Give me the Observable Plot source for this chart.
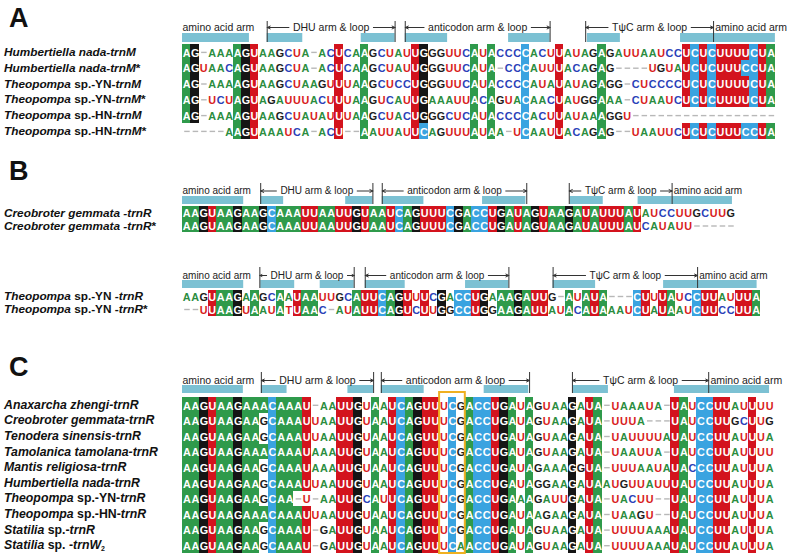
<!DOCTYPE html>
<html><head><meta charset="utf-8">
<script src="https://cdn.jsdelivr.net/npm/d3@7"></script>
<script src="https://cdn.jsdelivr.net/npm/@observablehq/plot@0.6"></script>
<style>
body{margin:0;background:#fff;font-family:"Liberation Sans",Arial,sans-serif;}
#fig{position:relative;width:787px;height:554px;overflow:hidden;background:#fff;}
.panel{position:absolute;left:0;width:787px;}
.panel svg{position:absolute;left:0;top:0;}
.lab{position:absolute;left:4px;font-weight:bold;font-size:12px;white-space:nowrap;line-height:14px;color:#111;}
.lab sub{font-size:7px;vertical-align:-2px;}
.letter{position:absolute;left:9px;font-weight:bold;font-size:27px;line-height:27px;color:#111;}
</style></head><body><div id="fig"></div>
<script>
// ---------------- DATA ----------------
// Uppercase = shaded (highlighted) residue, lowercase = plain residue, "-" = gap
const seqA = [
"AG-aaaAGUaagcua-acUcaAgcuauUGgguucAuAcccCacuUauagAgauuaauccUCUCUUUUCUA",
"AGuaacAGUaagcua-acUcaAgcuauUGgguucAuA-ccCauuUacagAg----uguaUCUCUUUCCUA",
"AG-aaaAGUaagcuaaguUuaAgcuccUGgguucAuAcccCauaUauagAgg-cuccccUCUCUUUUCUA",
"AG-ucuAGUagauuuacuUuaAgucauUGaaauuAcAguaCaacUauggAaa-cuaaucUCUCUUUUCUA",
"AG-aaaAGUaagcuauauUuaAgcuacUGggcucAuAcccCacuUauaaAggu-----------------",
"-----aAGUaaauca-acU--AauuauUCaguuuAuAa-uCaauUacagAg--uaauucUCUCUUUCCUA"
];
const labelsA = [
"_Humbertiella nada-trnM_",
"_Humbertiella nada-trnM_*",
"_Theopompa_ sp.-YN-_trnM_",
"_Theopompa_ sp.-YN-_trnM_*",
"_Theopompa_ sp.-HN-_trnM_",
"_Theopompa_ sp.-HN-_trnM_*"
];
const annoA = [
  {label:"amino acid arm", from:0},
  {label:"DHU arm & loop", from:10, to:25.1},
  {label:"anticodon arm & loop", from:26.3, to:43.4},
  {label:"T\u03C8C arm & loop", from:47.6, to:62.7},
  {label:"amino acid arm", from:62.9}
];
const barsA = [[0,7.9],[10,14.2],[21.1,25.1],[26.3,31.3],[38.5,43.4],[47.8,51.7],[58.8,62.7],[62.7,70]];

const seqB1 = [
"AAGUAAGAAGCAAAUUAAUUGUAAUCAGUUUCGACCUGAUAGUAAGAUAUUUAUauccuugcuug",
"AAGUAAGAAGCAAAUUAAUUGUAAUCAGUUUCGACCUGAUAGUAAGAUAUUUAUcauauu-----"
];
const labelsB1 = ["_Creobroter gemmata -trnR_", "_Creobroter gemmata -trnR_*"];
const annoB1 = [
  {label:"amino acid arm", from:0},
  {label:"DHU arm & loop", from:9.2, to:22.4},
  {label:"anticodon arm & loop", from:23.5, to:40.5},
  {label:"T\u03C8C arm & loop", from:45.5, to:57.6},
  {label:"amino acid arm", from:57.8}
];
const barsB1 = [[0,7.2],[9.2,11.9],[19.2,22.4],[23.5,28.4],[35.3,40.4],[45.6,49.5],[53.6,57.6],[57.6,64.7]];

const seqB2 = [
"aagUAAGaAgcAaUAAuugcAUUCAGUuUcGaCCUGaAAGAUUg-AuAUA---CUuUAucCUUauUUA",
"--uUAAGuAauAtUAAc-auAUUCAGUcUuGgCCUGgAAGAUUauAcAUAaauCUaUAauCUUccUUA"
];
const labelsB2 = ["_Theopompa_ sp.-YN -_trnR_", "_Theopompa_ sp.-YN -_trnR_*"];
const annoB2 = [
  {label:"amino acid arm", from:0},
  {label:"DHU arm & loop", from:9.1, to:20.2},
  {label:"anticodon arm & loop", from:21.5, to:38.4},
  {label:"T\u03C8C arm & loop", from:43.6, to:60.6},
  {label:"amino acid arm", from:60.8}
];
const barsB2 = [[0,7.2],[9.2,13.2],[16.2,20.2],[21.5,26.2],[33.3,38.4],[43.6,48.6],[56.6,60.6],[60.6,67.6]];

const seqC = [
"AAGUAAGAAACAAAU-aaUUGuAaUCAGUUuCgACCUGAuAguaaGaUA-uaaaua-UAuCCUUauUuu",
"AAGUAAGAAgCAAAUuaaUUGuAaUCAGUUuCgACCUGAuAguaaGaUA-uuua---UAuCCUUgcUug",
"AAGUAAGAAgCAAAUuaaUUGuAaUCAGUUuCgACCUGAuAguaaGaUA-uauuuuaUAuCCUUauUua",
"AAGUAAGAAACAAAUaaaUUGuAaUCAGUUuCgACCUGAuAguaaGaUA-uaauua-UAuCCUUauUuu",
"AAGUAAGAAgCAAAUaaaUUGuAaUCAGUUuCgACCUGAuAgaaaGgUA-uuuaauaUAcCCUUauUua",
"AAGUAAGAAgCAAAUuaaUUGuAaUCAGUUuCgACCUGAuAggaaGaUAauguuauuUAuCCUUauUua",
"AAGUAAGAAgCAA-u-aaUUGcAuUCAGUUuCgACCUGAaAgauuGaUA-uacuu--UAuCCUUauUua",
"AAGUAAGAAACAAAUuaaUUGuAaUCAGUUuCgACCUGAuAagaaGaUA-uaagu--UAuCCUUauUua",
"AAGUAAGAAgCAAAU-gaUUGuAaUCAGUUuCgACCUGAuAguaaGaUA-uuuuaaaUAuCCUUauUua",
"AAGUAAGAAgCAAAU-gaUUGuAaUCAGUUuCaACCUGAuAguaaGaUA-uuuuaaaUAuCCUUauUua"
];
const labelsC = [
"_Anaxarcha zhengi-trnR_",
"_Creobroter gemmata-trnR_",
"_Tenodera sinensis-trnR_",
"_Tamolanica tamolana-trnR_",
"_Mantis religiosa-trnR_",
"_Humbertiella nada-trnR_",
"_Theopompa_ sp.-YN-_trnR_",
"_Theopompa_ sp.-HN-_trnR_",
"_Statilia_ sp.-_trnR_",
"_Statilia_ sp. -_trnW_~2~"
];
const annoC = [
  {label:"amino acid arm", from:0},
  {label:"DHU arm & loop", from:9.2, to:22.3},
  {label:"anticodon arm & loop", from:23.2, to:40.5},
  {label:"T\u03C8C arm & loop", from:45.5, to:61.4},
  {label:"amino acid arm", from:61.6}
];
const barsC = [[0,7.1],[9.2,12.2],[19.3,22.3],[23.2,28.2],[35.2,40.4],[45.6,49.7],[57.4,61.4],[61.4,68.5]];
const boxC = {from:30, to:33};

// ---------------- STYLE ----------------
const BG = {A:"#2f9a4b", U:"#d3131d", T:"#d3131d", C:"#3aa3e0", G:"#151515"};
const FG = {A:"#2b8d3f", U:"#d81b1b", T:"#d81b1b", C:"#2a3fb8", G:"#1c1c1c"};
const SEQFONT = '"Liberation Sans",Arial,sans-serif';
const ANNOFONT = '"Liberation Sans",Arial,sans-serif';
const ctx = document.createElement("canvas").getContext("2d");
function measure(t, size){ ctx.font = size + "px " + ANNOFONT; return ctx.measureText(t).width; }
function labelHTML(s){ return s.replace(/_([^_]+)_/g,"<i>$1</i>").replace(/~([^~]+)~/g,"<sub>$1</sub>"); }

const fig = document.getElementById("fig");

function drawPanel(p){
  const rows = p.seqs.length, w = p.w, h = p.h;
  const yU = px => (px - p.rowTop) / h;
  const cells = [];
  p.seqs.forEach((s, r) => Array.from(s).forEach((ch, c) => cells.push({r, c, ch})));
  const res = cells.filter(d => d.ch !== "-");
  const hi = res.filter(d => d.ch !== d.ch.toLowerCase());
  const gaps = cells.filter(d => d.ch === "-");
  const spans = p.annos.filter(a => a.to != null);
  const plain = p.annos.filter(a => a.to == null);
  const ty = yU(p.textY);
  const arrows = spans.flatMap(a => {
    const mid = (a.from + a.to) / 2;
    const half = (measure(a.label, p.annoSize) / 2 + 4) / w;
    return [{x1: mid - half, x2: a.from, y: ty}, {x1: mid + half, x2: a.to, y: ty}];
  });
  const vlines = spans.flatMap(a => [a.from, a.to]);
  const marks = [
    Plot.rect(p.bars, {x1: d => d[0], x2: d => d[1], y1: yU(p.barY[0]), y2: yU(p.barY[1]), fill: "#7cc1d3"}),
    Plot.ruleX(vlines, {x: d => d, y1: yU(p.vY[0]), y2: yU(p.vY[1]), stroke: "#333", strokeWidth: 1}),
    Plot.text(plain, {x: d => d.from, y: ty, text: d => d.label, textAnchor: "start", fontSize: p.annoSize, fontFamily: ANNOFONT, fill: "#222"}),
    Plot.text(spans, {x: d => (d.from + d.to) / 2, y: ty, text: d => d.label, textAnchor: "middle", fontSize: p.annoSize, fontFamily: ANNOFONT, fill: "#222"}),
    Plot.arrow(arrows, {x1: "x1", x2: "x2", y1: "y", y2: "y", stroke: "#333", strokeWidth: 1, headLength: 5, headAngle: 50}),
    Plot.rect(hi, {x1: d => d.c, x2: d => d.c + 1, y1: d => d.r, y2: d => d.r + 1, fill: d => BG[d.ch.toUpperCase()], shapeRendering: "crispEdges"}),
    Plot.link(gaps, {x1: d => d.c + 0.2, x2: d => d.c + 0.85, y1: d => d.r + 0.5, y2: d => d.r + 0.5, stroke: "#b8b8b8", strokeWidth: 1.4}),
    Plot.text(res, {x: d => d.c + 0.5, y: d => d.r + 0.55, text: d => d.ch.toUpperCase(),
      fill: d => d.ch !== d.ch.toLowerCase() ? "#fff" : FG[d.ch.toUpperCase()],
      fontSize: p.seqSize, fontWeight: "bold", fontFamily: SEQFONT})
  ];
  if (p.box) marks.push(Plot.rect([p.box], {x1: d => d.from, x2: d => d.to, y1: yU(p.boxTop), y2: rows, fill: "none", stroke: "#efb021", strokeWidth: 2}));
  const plot = Plot.plot({
    width: 787, height: p.height, margin: 0,
    x: {domain: [0, p.N], range: [182, 182 + p.N * w], axis: null},
    y: {domain: [0, rows], range: [p.rowTop, p.rowTop + rows * h], axis: null},
    color: {type: "identity"},
    style: {background: "transparent", overflow: "visible"},
    marks
  });
  const div = document.createElement("div");
  div.className = "panel";
  div.style.top = p.top + "px";
  div.style.height = p.height + "px";
  div.appendChild(plot);
  const ys = plot.scale("y");
  p.labels.forEach((l, r) => {
    const d = document.createElement("div");
    d.className = "lab";
    d.style.fontSize = p.labSize + "px";
    d.innerHTML = labelHTML(l);
    d.style.top = (ys.apply(r + 0.5) - 7) + "px";
    div.appendChild(d);
  });
  if (p.letter) {
    const d = document.createElement("div");
    d.className = "letter";
    d.textContent = p.letter;
    d.style.top = (p.letterBase - 23) + "px";
    div.appendChild(d);
  }
  fig.appendChild(div);
}

drawPanel({seqs: seqA, labels: labelsA, annos: annoA, bars: barsA, letter: "A", letterBase: 28,
  top: 0, height: 140, N: 70, w: 8.47, rowTop: 44, h: 15.8, textY: 27, barY: [33, 42], vY: [21, 42],
  annoSize: 10.5, seqSize: 10.8, labSize: 11.8});
drawPanel({seqs: seqB1, labels: labelsB1, annos: annoB1, bars: barsB1, letter: "B", letterBase: 41,
  top: 140, height: 95, N: 68, w: 8.5, rowTop: 66, h: 13, textY: 50.5, barY: [56, 64], vY: [43, 64],
  annoSize: 10, seqSize: 10.8, labSize: 11.8});
drawPanel({seqs: seqB2, labels: labelsB2, annos: annoB2, bars: barsB2,
  top: 235, height: 85, N: 68, w: 8.5, rowTop: 54.5, h: 13, textY: 40, barY: [45, 53], vY: [32, 53],
  annoSize: 10, seqSize: 10.8, labSize: 11.8});
drawPanel({seqs: seqC, labels: labelsC, annos: annoC, bars: barsC, letter: "C", letterBase: 57, box: boxC, boxTop: 72,
  top: 320, height: 234, N: 69, w: 8.57, rowTop: 77, h: 15.6, textY: 60, barY: [65, 73], vY: [52, 73],
  annoSize: 10.5, seqSize: 10.8, labSize: 12.3});
</script></body></html>
